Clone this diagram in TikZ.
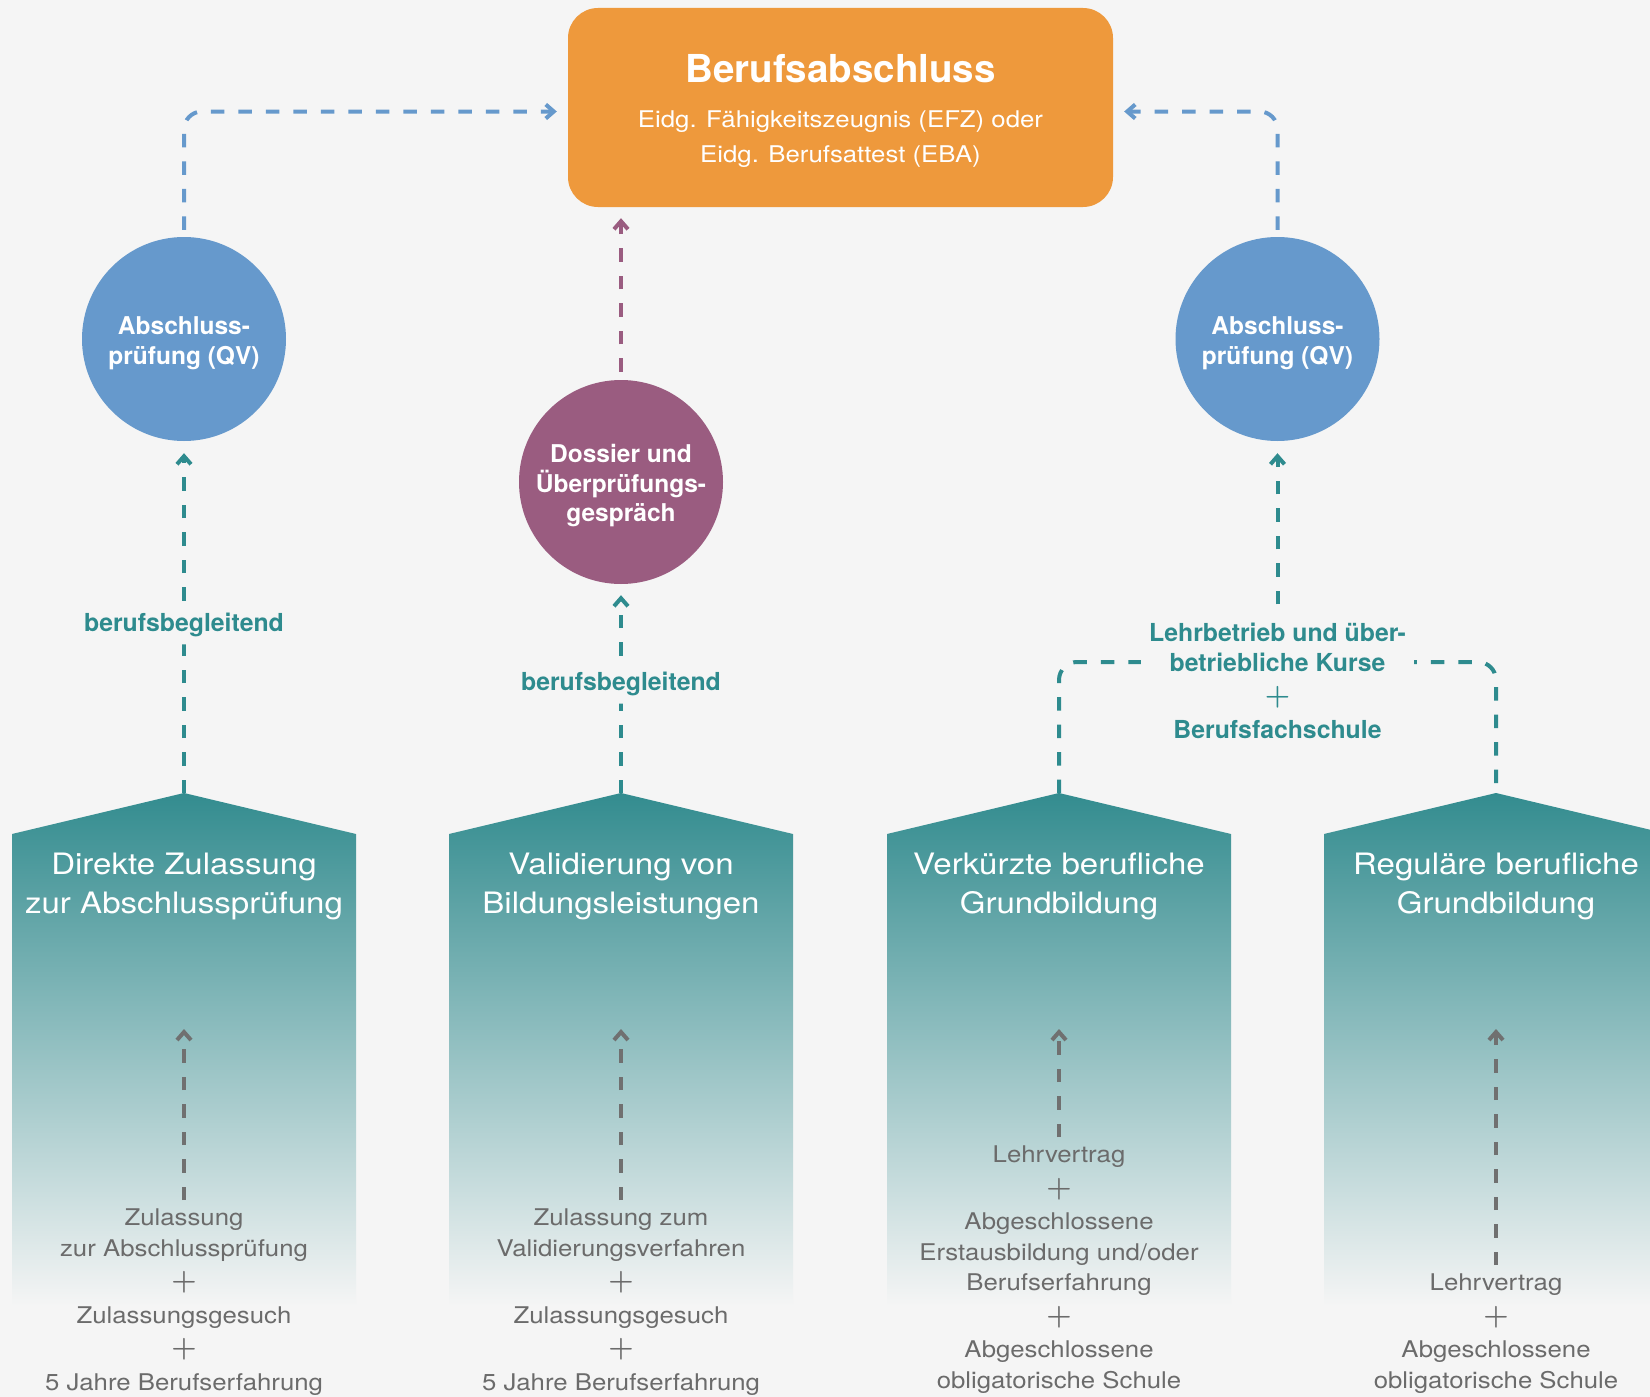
\documentclass[tikz,border=0pt]{standalone}
\usepackage{fontspec}
\setmainfont{TeX Gyre Heros}
\newfontfamily\breitschrift[FakeStretch=1.12]{TeX Gyre Heros}
\newfontfamily\plusschrift{Latin Modern Roman}
\usepackage{tikz}
\usetikzlibrary{arrows.meta,positioning,shapes.geometric}

\definecolor{hintergrund}{HTML}{F5F5F5}
\definecolor{orangeZ}{HTML}{EE993C}
\definecolor{blauQV}{HTML}{6699CC}
\definecolor{violettD}{HTML}{9A5C80}
\definecolor{tuerkis}{HTML}{2E8B8E}
\definecolor{hausoben}{HTML}{338C8F}
\definecolor{grauT}{HTML}{6B6B6B}
\definecolor{grauP}{HTML}{707070}

\newcommand{\undzeichen}{{\plusschrift\bfseries\fontsize{29}{29}\selectfont +}}
\newcommand{\kreisstuetze}{\rule{0pt}{26pt}}

\tikzstyle{abschlussbox} = [rectangle, rounded corners=30pt, fill=orangeZ, minimum width=545pt, minimum height=199pt, inner sep=0pt]
\tikzstyle{titel} = [anchor=base, text=white, font=\bfseries\fontsize{38.5}{44}\selectfont]
\tikzstyle{untertitel} = [anchor=base, text=white, align=center, font=\breitschrift\fontsize{23}{35}\selectfont]
\tikzstyle{kreis} = [circle, minimum size=204pt, inner sep=0pt, text=white, align=center, font=\bfseries\fontsize{24.5}{29.5}\selectfont]
\tikzstyle{hausname} = [anchor=base, text=white, align=center, font=\breitschrift\fontsize{29.5}{39}\selectfont]
\tikzstyle{voraussetzung} = [anchor=base, text=grauT, align=center, font=\breitschrift\fontsize{23}{30.5}\selectfont]
\tikzstyle{weglabel} = [text=tuerkis, fill=hintergrund, inner sep=8pt, align=center, font=\bfseries\fontsize{24.8}{30}\selectfont]
\tikzstyle{strich} = [line width=4pt, dash pattern=on 13.5pt off 14pt, -{Straight Barb[length=8pt,width=14pt]}, rounded corners=18pt]
\tikzstyle{blaulinie} = [strich, blauQV, shorten <=7pt, shorten >=11pt]
\tikzstyle{violettlinie} = [strich, violettD, shorten <=8pt, shorten >=11pt]
\tikzstyle{tuerkislinie} = [strich, tuerkis]
\tikzstyle{grauerpfeil} = [strich, grauP, shorten <=5pt]

\begin{document}
\begin{tikzpicture}[x=1pt, y=-1pt]
\useasboundingbox (0,0) rectangle (1650,1397);
\clip (0,0) rectangle (1650,1397);
\fill[hintergrund] (0,0) rectangle (1650,1397);

\foreach \x/\n in {184/1, 621/2, 1059/3, 1496/4}{
  \shade[top color=hausoben, bottom color=hintergrund] (\x-172,1306) -- (\x-172,834) -- (\x,793) -- (\x+172,834) -- (\x+172,1306) -- cycle;
  \coordinate (haus\n) at (\x,793);
}

\node[abschlussbox] (abschluss) at (840.5,107.5) {};
\node[titel] (titel) at (840.5,83) {Berufsabschluss};
\node[untertitel] (efz) at (840.5,162) {Eidg. Fähigkeitszeugnis (EFZ) oder\\Eidg. Berufsattest (EBA)};

\node[kreis, fill=blauQV] (qv1) at (184,339) {\kreisstuetze Abschluss-\\prüfung (QV)};
\node[kreis, fill=blauQV] (qv2) at (1277.5,339) {\kreisstuetze Abschluss-\\prüfung (QV)};
\node[kreis, fill=violettD] (dossier) at (621,482) {\kreisstuetze Dossier und\\Überprüfungs-\\gespräch};

\node[hausname] (direkt) at (184,913) {Direkte Zulassung\\zur Abschlussprüfung};
\node[hausname] (validierung) at (621,913) {Validierung von\\Bildungsleistungen};
\node[hausname] (verkuerzt) at (1059,913) {Verkürzte berufliche\\Grundbildung};
\node[hausname] (regulaer) at (1496,913) {Reguläre berufliche\\Grundbildung};

\node[voraussetzung] (bed1) at (184,1390) {Zulassung\\zur Abschlussprüfung\\[3pt]\undzeichen\\[3pt]Zulassungsgesuch\\[3pt]\undzeichen\\[3pt]5 Jahre Berufserfahrung};
\node[voraussetzung] (bed2) at (621,1390) {Zulassung zum\\Validierungsverfahren\\[3pt]\undzeichen\\[3pt]Zulassungsgesuch\\[3pt]\undzeichen\\[3pt]5 Jahre Berufserfahrung};
\node[voraussetzung] (bed3) at (1059,1388) {Lehrvertrag\\[3pt]\undzeichen\\[3pt]Abgeschlossene\\Erstausbildung und/oder\\Berufserfahrung\\[3pt]\undzeichen\\[3pt]Abgeschlossene\\obligatorische Schule};
\node[voraussetzung] (bed4) at (1496,1388) {Lehrvertrag\\[3pt]\undzeichen\\[3pt]Abgeschlossene\\obligatorische Schule};

\coordinate (spitze1) at (184,1029);
\coordinate (spitze2) at (621,1029);
\coordinate (spitze3) at (1059,1029);
\coordinate (spitze4) at (1496,1029);
\draw[grauerpfeil] (bed1) -- (spitze1);
\draw[grauerpfeil] (bed2) -- (spitze2);
\draw[grauerpfeil] (bed3) -- (spitze3);
\draw[grauerpfeil] (bed4) -- (spitze4);

\draw[blaulinie] (qv1) |- ([yshift=-4pt]abschluss.west);
\draw[blaulinie] (qv2) |- ([yshift=-4pt]abschluss.east);
\draw[violettlinie] (dossier) -- (dossier |- abschluss.south);

\draw[tuerkislinie, shorten >=12pt] (haus1) -- node[weglabel, pos=0.479] (begleit1) {berufsbegleitend} (qv1);
\draw[tuerkislinie, shorten >=11pt] (haus2) -- node[weglabel, pos=0.524] (begleit2) {berufsbegleitend} (dossier);

\coordinate (knick) at (1277.5,662);
\draw[tuerkislinie, -] (haus3) |- (knick) -| (haus4);
\node[weglabel, anchor=base] (kurse) at (1277.5,738) {Lehrbetrieb und über-\\betriebliche Kurse\\[3.5pt]\undzeichen\\[3.5pt]Berufsfachschule};
\draw[tuerkislinie, shorten <=10pt, shorten >=12pt] (kurse) -- (qv2);
\end{tikzpicture}
\end{document}
